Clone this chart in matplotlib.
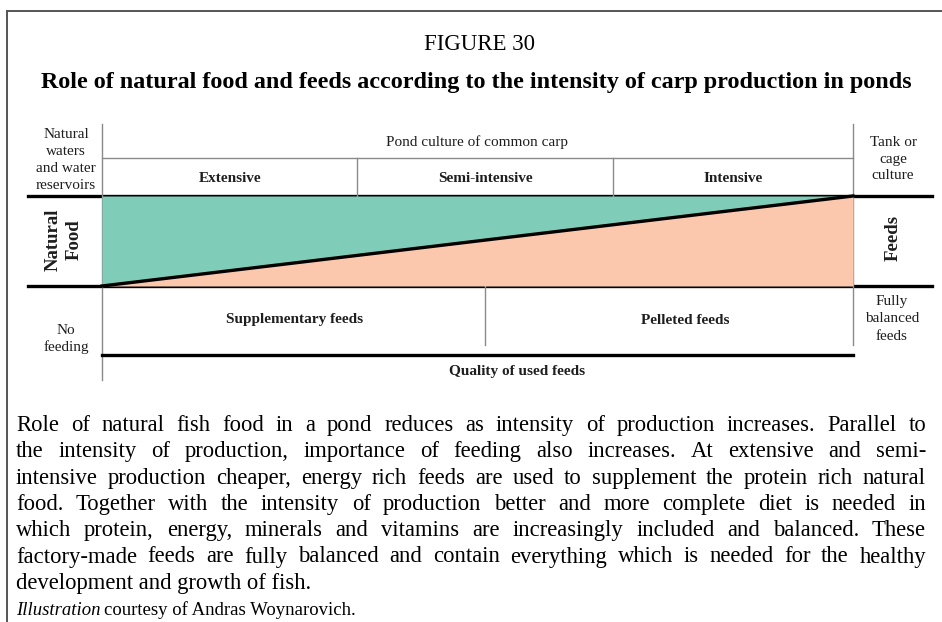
import matplotlib.pyplot as plt
from matplotlib.transforms import blended_transform_factory

plt.rcParams['font.family'] = ['Liberation Serif', 'DejaVu Serif']

W, H = 942, 622

figure_label = "FIGURE 30"
title = "Role of natural food and feeds according to the intensity of carp production in ponds"

# production intensity, from the start of extensive to the end of intensive pond culture
intensity = [0.0, 1.0]
feed_share = [0.0, 1.0]   # share of feeds in the diet, natural food is the rest

pond_header = "Pond culture of common carp"
stages = ["Extensive", "Semi-intensive", "Intensive"]
stage_edges = [0.0, 0.34, 0.68, 1.0]
feed_types = ["Supplementary feeds", "Pelleted feeds"]
feed_edges = [0.0, 0.51, 1.0]
quality_label = "Quality of used feeds"

left_top = "Natural\nwaters\nand water\nreservoirs"
left_band = "Natural\nFood"
left_bottom = "No\nfeeding"
right_top = "Tank or\ncage\nculture"
right_band = "Feeds"
right_bottom = "Fully\nbalanced\nfeeds"

caption_lines = [
    "Role of natural fish food in a pond reduces as intensity of production increases. Parallel to",
    "the intensity of production, importance of feeding also increases. At extensive and semi-",
    "intensive production cheaper, energy rich feeds are used to supplement the protein rich natural",
    "food. Together with the intensity of production better and more complete diet is needed in",
    "which protein, energy, minerals and vitamins are increasingly included and balanced. These",
    "factory-made feeds are fully balanced and contain everything which is needed for the healthy",
    "development and growth of fish.",
]
credit_italic = "Illustration"
credit_rest = "courtesy of Andras Woynarovich."

GREEN = '#7fcdb9'
PEACH = '#fcc8ad'
INK = '#1e1e1e'
THIN = '#8a8a8a'

fig = plt.figure(figsize=(W / 100, H / 100), dpi=100)
ax = fig.add_axes([0, 0, 1, 1])
ax.set_xlim(0, W)
ax.set_ylim(H, 0)
ax.axis('off')

# outer frame (only left and top edges are visible in the crop)
ax.plot([7, 7], [11, H], color='#555555', lw=1.4)
ax.plot([7, W], [11, 11], color='#555555', lw=1.4)

ax.text(479, 50, figure_label, ha='center', va='baseline', fontsize=16.5, color='black')
ax.text(476, 88, title, ha='center', va='baseline', fontsize=17.4, fontweight='bold', color='black')

# band with natural food vs feeds
X0, X1, YT, YB = 102, 853, 196, 286
band = fig.add_axes([X0 / W, 1 - YB / H, (X1 - X0) / W, (YB - YT) / H])
band.set_xlim(0, 1)
band.set_ylim(0, 1)
band.axis('off')
band.fill_between(intensity, feed_share, 1, color=GREEN, lw=0)
band.fill_between(intensity, 0, feed_share, color=PEACH, lw=0)
band.plot(intensity, feed_share, color='black', lw=2.4, clip_on=False)

bx = blended_transform_factory(band.transData, ax.transData)

# frame lines
ax.plot([28, 932], [YT, YT], color='black', lw=2.4)
ax.plot([28, 932], [YB, YB], color='black', lw=2.4)
ax.plot([X0, X0], [124, 380], color=THIN, lw=1)
ax.plot([X1, X1], [124, 345], color=THIN, lw=1)
ax.plot([0, 1], [158, 158], transform=bx, color=THIN, lw=1)
for e in stage_edges[1:-1]:
    ax.plot([e, e], [158, YT], transform=bx, color=THIN, lw=1)
for e in feed_edges[1:-1]:
    ax.plot([e, e], [YB, 345], transform=bx, color=THIN, lw=1)
ax.plot([0, 1], [355, 355], transform=bx, color='black', lw=2.4)

# header labels
ax.text(0.5, 142, pond_header, transform=bx, ha='center', va='center', fontsize=11, color=INK)
for i, s in enumerate(stages):
    mid = (stage_edges[i] + stage_edges[i + 1]) / 2
    ax.text(mid, 178, s, transform=bx, ha='center', va='center', fontsize=11,
            fontweight='bold', color=INK)

# feed labels
ax.text(295, 320, feed_types[0], ha='center', va='center', fontsize=11, fontweight='bold', color=INK)
ax.text(685, 320, feed_types[1], ha='center', va='center', fontsize=11, fontweight='bold', color=INK)
ax.text(517, 371, quality_label, ha='center', va='center', fontsize=11, fontweight='bold', color=INK)

# side labels
ax.text(66, 160, left_top, ha='center', va='center', fontsize=11, linespacing=1.42, color=INK)
ax.text(64, 240, left_band, ha='center', va='center', fontsize=13.5, fontweight='bold',
        rotation=90, linespacing=1.3, color=INK)
ax.text(66, 339, left_bottom, ha='center', va='center', fontsize=11, linespacing=1.3, color=INK)
ax.text(893, 159, right_top, ha='center', va='center', fontsize=11, linespacing=1.37, color=INK)
ax.text(893, 238, right_band, ha='center', va='center', fontsize=13.5, fontweight='bold',
        rotation=90, color=INK)
ax.text(892, 319, right_bottom, ha='center', va='center', fontsize=11, linespacing=1.4, color=INK)

# justified caption
renderer = fig.canvas.get_renderer()
L, R = 16, 926
base, step = 431, 26.3
body_size = 16.3
for k, line in enumerate(caption_lines):
    y = base + k * step
    if k == len(caption_lines) - 1:
        ax.text(L, y, line, fontsize=body_size, va='baseline', color='black')
        continue
    words = line.split(' ')
    texts = [ax.text(L, y, w, fontsize=body_size, va='baseline', color='black') for w in words]
    widths = [t.get_window_extent(renderer).width for t in texts]
    gap = (R - L - sum(widths)) / (len(words) - 1)
    x = L
    for t, w in zip(texts, widths):
        t.set_x(x)
        x += w + gap

y = base + len(caption_lines) * step
t = ax.text(L, y, credit_italic, fontsize=13.5, style='italic', va='baseline', color='black')
w = t.get_window_extent(renderer).width
ax.text(L + w + 4, y, credit_rest, fontsize=13.5, va='baseline', color='black')

fig.savefig('out.png', dpi=100)
